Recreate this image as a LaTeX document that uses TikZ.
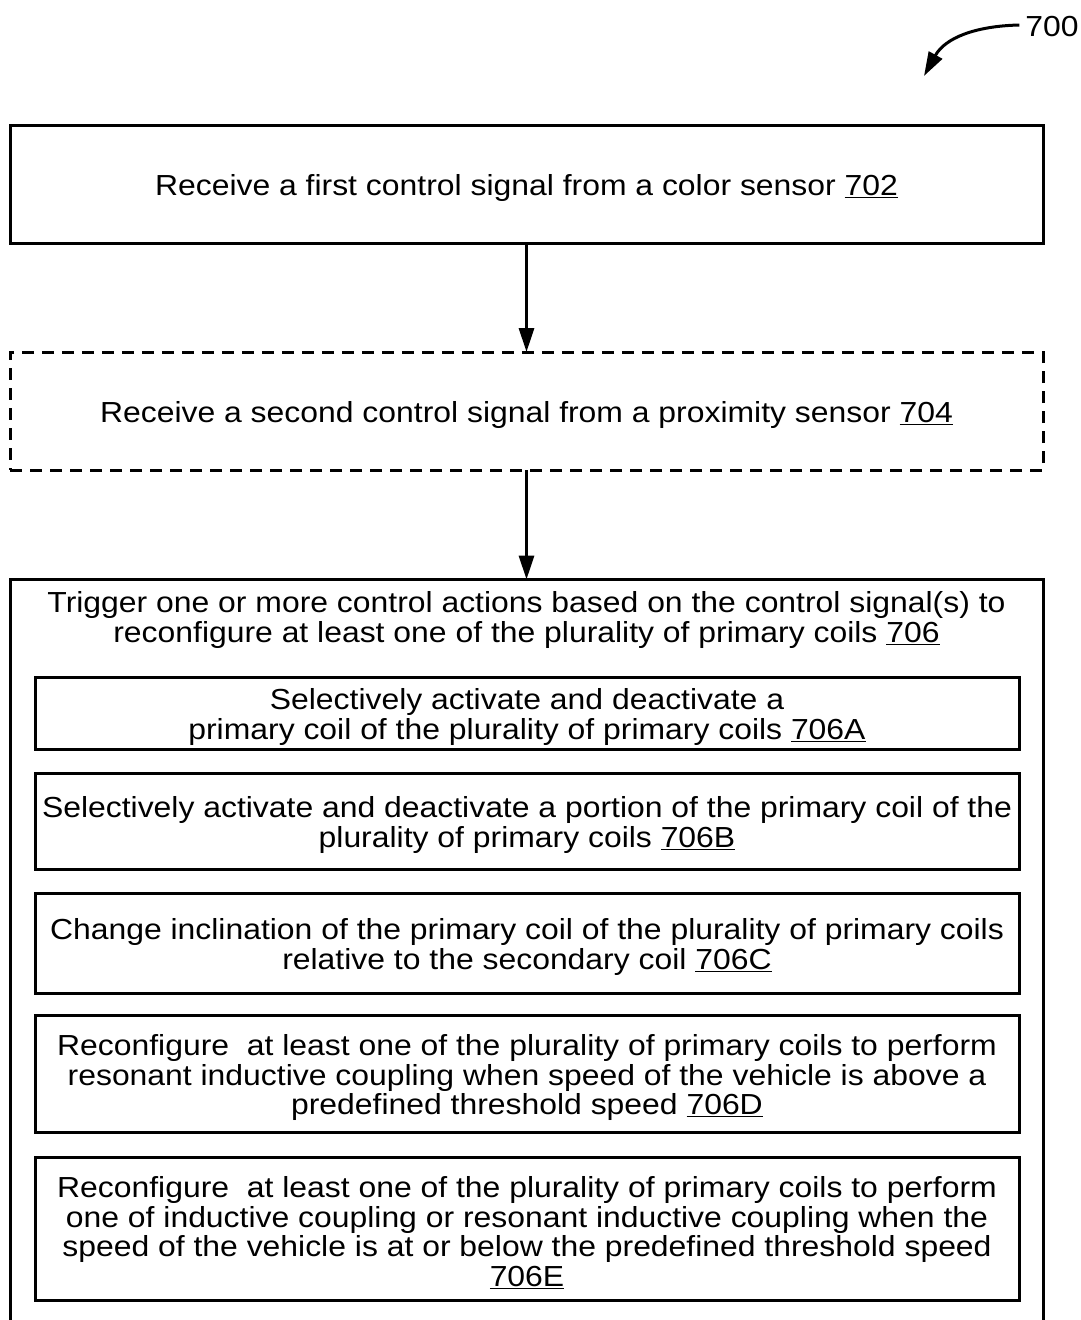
\documentclass[tikz,border=0pt]{standalone}
\usepackage{fontspec}
\setmainfont{Liberation Sans}[FakeStretch=1.1]
\usetikzlibrary{arrows.meta}

\begin{document}
\begin{tikzpicture}[x=1pt, y=-1pt, line width=3pt, inner sep=0, outer sep=0,
    font=\fontsize{29pt}{29.5pt}\selectfont,
    stepbox/.style={rectangle, draw=black, minimum width=1033pt, minimum height=118pt},
    subbox/.style={rectangle, draw=black, minimum width=984pt},
    steptext/.style={align=center, yshift=-4pt},
    flow/.style={-{Triangle[length=24pt, width=15pt]}}]
  \clip (0,0) rectangle (1081,1320);

  % reference numeral
  \node (num) at (1052,27) {700};
  \coordinate (numtip) at (924,76);
  \draw[flow] ([xshift=-6pt, yshift=2pt]num.west) .. controls (975,26) and (945,38) .. (numtip);

  \node[stepbox] (s702) at (526.5,184) {};
  \node[steptext] (t702) at (s702.center) {Receive a first control signal from a color sensor \underline{702}};
  \node[stepbox, dash pattern=on 12pt off 8pt] (s704) at (526.5,411) {};
  \node[steptext] (t704) at (s704.center) {Receive a second control signal from a proximity sensor \underline{704}};

  % outer block runs past the bottom edge
  \draw (10,1340) -- (10,579.5) -- (1043,579.5) -- (1043,1340);
  \coordinate (s706) at (526.5,579.5);
  \node[steptext] (t706) at (526.5,616) {Trigger one or more control actions based on the control signal(s) to\\reconfigure at least one of the plurality of primary coils \underline{706}};

  \draw[flow] (s702) -- (s704);
  \draw[flow] (s704) -- (s706);

  \node[subbox, minimum height=72pt] (s706a) at (527,713) {};
  \node[steptext] (t706a) at (s706a.center) {Selectively activate and deactivate a\\primary coil of the plurality of primary coils \underline{706A}};
  \node[subbox, minimum height=96pt] (s706b) at (527,821) {};
  \node[steptext] (t706b) at (s706b.center) {Selectively activate and deactivate a portion of the primary coil of the\\plurality of primary coils \underline{706B}};
  \node[subbox, minimum height=100pt] (s706c) at (527,943) {};
  \node[steptext] (t706c) at (s706c.center) {Change inclination of the primary coil of the plurality of primary coils\\relative to the secondary coil \underline{706C}};
  \node[subbox, minimum height=117pt] (s706d) at (527,1073.5) {};
  \node[steptext] (t706d) at (s706d.center) {Reconfigure\ \ at least one of the plurality of primary coils to perform\\resonant inductive coupling when speed of the vehicle is above a\\predefined threshold speed \underline{706D}};
  \node[subbox, minimum height=143pt] (s706e) at (527,1228.5) {};
  \node[steptext] (t706e) at (s706e.center) {Reconfigure\ \ at least one of the plurality of primary coils to perform\\one of inductive coupling or resonant inductive coupling when the\\speed of the vehicle is at or below the predefined threshold speed\\\underline{706E}};
\end{tikzpicture}
\end{document}
